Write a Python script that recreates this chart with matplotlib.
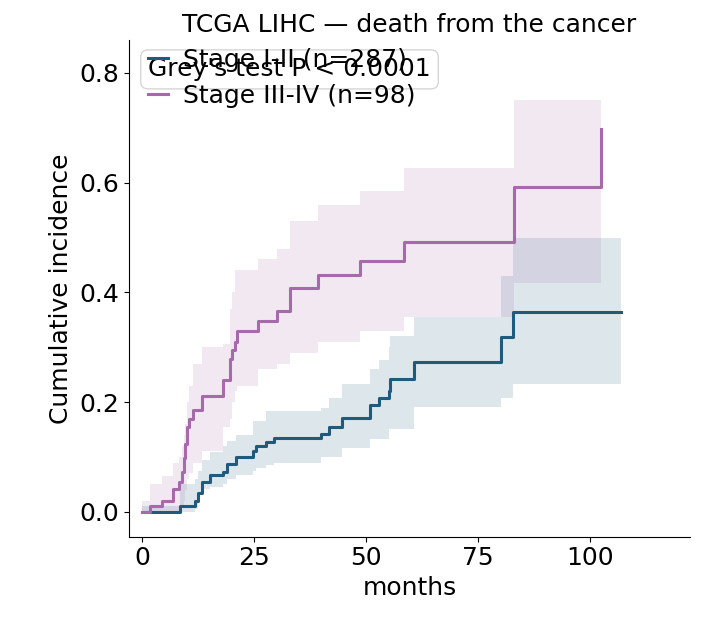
import numpy as np
import matplotlib.pyplot as plt

# Stage I-II
t_early = [0, 8.5, 11.9, 12.6, 13.4, 15.2, 18.2, 18.9, 21.0, 24.9, 25.5, 27.7, 29.4, 40.0,
           41.7, 44.7, 51.0, 52.9, 55.1, 55.5, 60.7, 80.2, 82.8, 107]
ci_early = [0, 0.011, 0.019, 0.035, 0.054, 0.067, 0.073, 0.087, 0.100, 0.111, 0.120, 0.128, 0.135, 0.142,
            0.154, 0.172, 0.195, 0.208, 0.220, 0.243, 0.273, 0.318, 0.365, 0.365]
lo_early = [0, 0, 0.005, 0.03, 0.042, 0.045, 0.05, 0.06, 0.067, 0.075, 0.08, 0.085, 0.09, 0.10,
            0.10, 0.117, 0.132, 0.132, 0.151, 0.151, 0.192, 0.208, 0.233, 0.233]
hi_early = [0.01, 0.05, 0.06, 0.075, 0.095, 0.11, 0.12, 0.13, 0.14, 0.165, 0.165, 0.183, 0.183, 0.19,
            0.208, 0.233, 0.26, 0.276, 0.30, 0.32, 0.356, 0.43, 0.50, 0.50]

# Stage III-IV
t_late = [0, 1.8, 4.4, 6.9, 8.3, 8.9, 9.3, 9.6, 10.0, 10.6, 11.5, 13.4, 18.0, 19.7, 20.1,
          20.8, 21.3, 26.0, 30.1, 33.0, 39.4, 48.8, 58.5, 83.1, 102.5]
ci_late = [0, 0.010, 0.019, 0.042, 0.054, 0.073, 0.098, 0.123, 0.154, 0.170, 0.185, 0.211, 0.241,
           0.278, 0.295, 0.309, 0.330, 0.347, 0.366, 0.408, 0.432, 0.458, 0.491, 0.593, 0.697]
lo_late = [0, 0, 0, 0, 0.005, 0.01, 0.02, 0.04, 0.06, 0.07, 0.09, 0.111, 0.154, 0.17, 0.2,
           0.22, 0.23, 0.26, 0.27, 0.29, 0.31, 0.33, 0.356, 0.418, 0.418]
hi_late = [0.02, 0.05, 0.066, 0.09, 0.10, 0.12, 0.14, 0.16, 0.20, 0.23, 0.27, 0.30, 0.306,
           0.37, 0.40, 0.44, 0.44, 0.46, 0.48, 0.53, 0.56, 0.585, 0.626, 0.75, 0.75]

c_early = '#1f5b7c'
c_late = '#a66aaa'
fs = 18

fig, ax = plt.subplots(figsize=(7.14, 6.35), dpi=100)
fig.subplots_adjust(left=0.18, right=0.967, top=0.937, bottom=0.155)

ax.fill_between(t_early, lo_early, hi_early, step='post', color=c_early, alpha=0.15, lw=0)
ax.step(t_early, ci_early, where='post', color=c_early, lw=2.2, label='Stage I-II (n=287)')
ax.fill_between(t_late, lo_late, hi_late, step='post', color=c_late, alpha=0.15, lw=0)
ax.step(t_late, ci_late, where='post', color=c_late, lw=2.2, label='Stage III-IV (n=98)')

ax.set_xlim(-3, 122.5)
ax.set_ylim(-0.045, 0.86)
ax.set_xticks([0, 25, 50, 75, 100])
ax.set_yticks([0, 0.2, 0.4, 0.6, 0.8])
ax.tick_params(labelsize=fs)
ax.spines['top'].set_visible(False)
ax.spines['right'].set_visible(False)
ax.set_xlabel('months', fontsize=fs)
ax.set_ylabel('Cumulative incidence', fontsize=fs)
ax.set_title('TCGA LIHC — death from the cancer', fontsize=fs)

ax.legend(loc='upper left', frameon=False, fontsize=fs, handlelength=0.8,
          handletextpad=0.6, bbox_to_anchor=(-0.005, 1.03))
ax.text(0.035, 0.965, "Grey's test P < 0.0001", transform=ax.transAxes, fontsize=fs,
        va='top', bbox=dict(boxstyle='round', fc='white', ec='#cccccc', alpha=0.8))

fig.savefig('out.png')
